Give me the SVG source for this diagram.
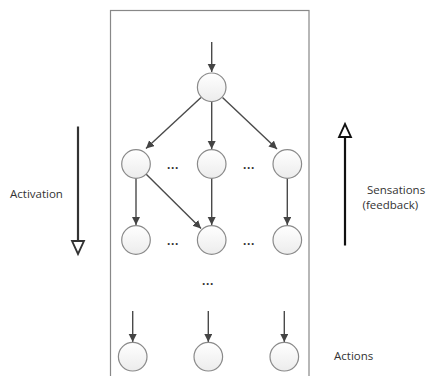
<svg xmlns="http://www.w3.org/2000/svg" width="426" height="376" viewBox="0 0 426 376">
<defs>
<linearGradient id="g" x1="0" y1="0" x2="0" y2="1"><stop offset="0" stop-color="#ffffff"/><stop offset="1" stop-color="#ececec"/></linearGradient>
<marker id="a" markerWidth="10" markerHeight="10" refX="8" refY="4" orient="auto" markerUnits="userSpaceOnUse"><path d="M0,0 L8,4 L0,8 z" fill="#444"/></marker>
</defs>
<style>
.n{fill:url(#g);stroke:#8a8a8a;stroke-width:1.2}
.c{stroke:#4a4a4a;stroke-width:1.4;fill:none;marker-end:url(#a)}
.t{font-family:"Open Sans","Liberation Sans",sans-serif;font-size:11.5px;fill:#333}
.d{font-family:"Liberation Sans",sans-serif;font-size:12px;fill:#333;font-weight:bold}
</style>
<rect width="426" height="376" fill="#fff"/>
<rect x="110.5" y="10.5" width="198.5" height="370" fill="none" stroke="#888" stroke-width="1.2"/>
<g id="connectors">
<line class="c" x1="211.7" y1="42" x2="211.7" y2="72"/>
<line class="c" x1="201" y1="97.5" x2="146" y2="148.5"/>
<line class="c" x1="211.7" y1="102" x2="211.7" y2="149"/>
<line class="c" x1="222.5" y1="97.5" x2="277" y2="149"/>
<line class="c" x1="136" y1="178" x2="136" y2="225"/>
<line class="c" x1="146" y1="174" x2="201" y2="228.5"/>
<line class="c" x1="211.7" y1="178" x2="211.7" y2="225"/>
<line class="c" x1="287.3" y1="178" x2="287.3" y2="225"/>
<line class="c" x1="132.7" y1="311" x2="132.7" y2="342"/>
<line class="c" x1="208.3" y1="311" x2="208.3" y2="342"/>
<line class="c" x1="284.3" y1="311" x2="284.3" y2="342"/>
</g>
<g id="n0"><circle class="n" cx="211.7" cy="87.3" r="14.3"/></g>
<g id="n1"><circle class="n" cx="136" cy="164" r="14.3"/></g>
<g id="n2"><circle class="n" cx="211.7" cy="164" r="14.3"/></g>
<g id="n3"><circle class="n" cx="287.3" cy="164" r="14.3"/></g>
<g id="n4"><circle class="n" cx="136" cy="240" r="14.3"/></g>
<g id="n5"><circle class="n" cx="211.7" cy="240" r="14.3"/></g>
<g id="n6"><circle class="n" cx="287.3" cy="240" r="14.3"/></g>
<g id="n7"><circle class="n" cx="132.7" cy="356.7" r="14.3"/></g>
<g id="n8"><circle class="n" cx="208.3" cy="356.7" r="14.3"/></g>
<g id="n9"><circle class="n" cx="284.3" cy="356.7" r="14.3"/></g>
<g id="dots">
<text class="d" x="173" y="172" text-anchor="middle">···</text>
<text class="d" x="249" y="172" text-anchor="middle">···</text>
<text class="d" x="173" y="248" text-anchor="middle">···</text>
<text class="d" x="249" y="248" text-anchor="middle">···</text>
<text class="d" x="208" y="288" text-anchor="middle">···</text>
</g>
<g id="activation">
<line x1="78" y1="126.5" x2="78" y2="241" stroke="#333" stroke-width="2.2"/>
<path d="M72,241 L84,241 L78,254 z" fill="#fff" stroke="#333" stroke-width="1.8"/>
<text class="t" x="10" y="198">Activation</text>
</g>
<g id="sensations">
<line x1="345" y1="137" x2="345" y2="245.5" stroke="#111" stroke-width="2.2"/>
<path d="M339,137 L351,137 L345,124 z" fill="#fff" stroke="#111" stroke-width="1.8"/>
<text class="t" x="367" y="194">Sensations</text>
<text class="t" x="362.5" y="209">(feedback)</text>
</g>
<text class="t" x="334" y="360">Actions</text>
</svg>
